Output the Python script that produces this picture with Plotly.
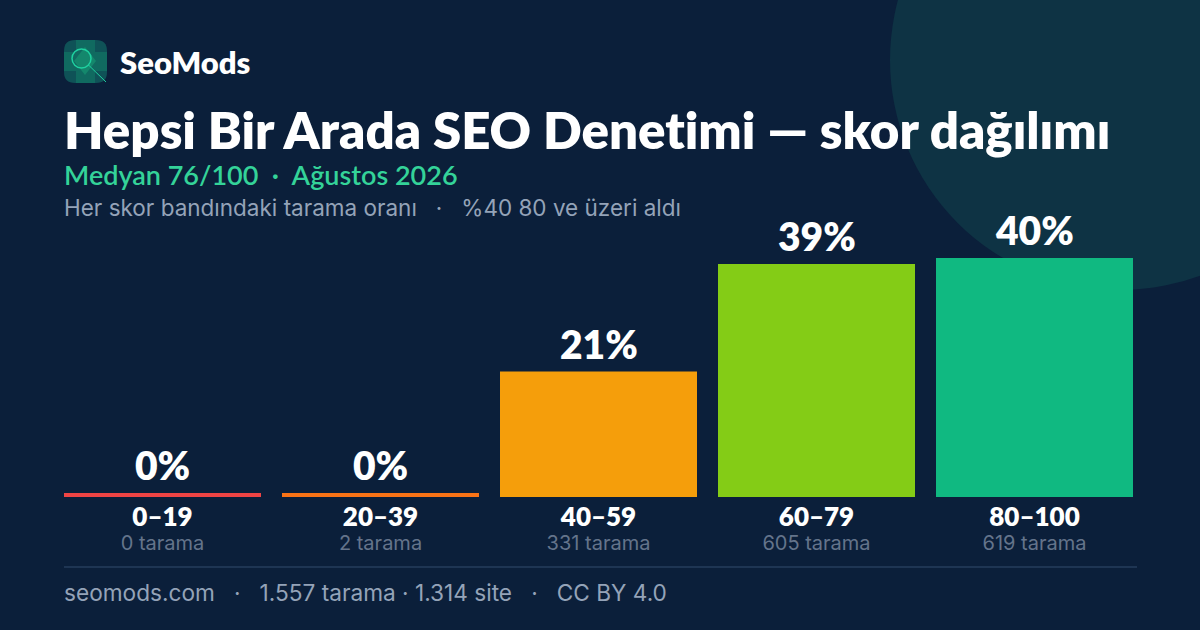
import plotly.graph_objects as go

W, H = 1200, 630

bands = ["0–19", "20–39", "40–59", "60–79", "80–100"]
percents = [0, 0, 21, 39, 40]
# a 0% band still gets a thin line in the original
bar_heights = [0.67, 0.67, 21, 39, 40]
scans = [0, 2, 331, 605, 619]
bar_colors = ["#ef4444", "#f97316", "#f59e0b", "#84cc16", "#10b981"]

BG = "#0b1f3a"
FONT = "Inter"
DISPLAY = "Lato"


def px(x):
    return x / W


def py(y):
    return 1 - y / H


def label(text, x, y, size, color, weight=400, family=FONT):
    # annotations carry 2px of padding, hence the -2
    return dict(text=text, x=px(x - 2), y=py(y), xref="paper", yref="paper",
                xanchor="left", yanchor="middle", showarrow=False,
                font=dict(family=family, size=size, color=color, weight=weight))


def rounded_square(x0, y0, x1, y1, r):
    pts = [
        f"M {px(x0 + r):.5f},{py(y0):.5f}",
        f"L {px(x1 - r):.5f},{py(y0):.5f}",
        f"Q {px(x1):.5f},{py(y0):.5f} {px(x1):.5f},{py(y0 + r):.5f}",
        f"L {px(x1):.5f},{py(y1 - r):.5f}",
        f"Q {px(x1):.5f},{py(y1):.5f} {px(x1 - r):.5f},{py(y1):.5f}",
        f"L {px(x0 + r):.5f},{py(y1):.5f}",
        f"Q {px(x0):.5f},{py(y1):.5f} {px(x0):.5f},{py(y1 - r):.5f}",
        f"L {px(x0):.5f},{py(y0 + r):.5f}",
        f"Q {px(x0):.5f},{py(y0):.5f} {px(x0 + r):.5f},{py(y0):.5f}",
        "Z",
    ]
    return " ".join(pts)


def poly(points):
    return "M " + " L ".join(f"{px(a):.5f},{py(b):.5f}" for a, b in points) + " Z"


fig = go.Figure()
fig.add_trace(go.Bar(
    x=bands,
    y=bar_heights,
    marker=dict(color=bar_colors, line=dict(width=0)),
    hoverinfo="skip",
))

shapes = [
    # big circle top right
    dict(type="circle", xref="paper", yref="paper", layer="below",
         x0=px(890), x1=px(1350), y0=py(290), y1=py(-170),
         fillcolor="#0e3344", line=dict(width=0)),
    # footer rule
    dict(type="line", xref="paper", yref="paper", layer="below",
         x0=px(64), x1=px(1137), y0=py(567), y1=py(567),
         line=dict(color="#1e3553", width=2)),
    # logo
    dict(type="path", path=rounded_square(64, 40, 107, 83, 11), xref="paper", yref="paper",
         fillcolor="#0f5257", line=dict(width=0)),
    dict(type="rect", xref="paper", yref="paper",
         x0=px(76), x1=px(95), y0=py(83), y1=py(40),
         fillcolor="#106a60", line=dict(width=0)),
    dict(type="rect", xref="paper", yref="paper",
         x0=px(64), x1=px(107), y0=py(71), y1=py(52),
         fillcolor="#106a60", line=dict(width=0)),
    dict(type="path", path=poly([(85, 47), (96, 61), (85, 75), (74, 61)]), xref="paper", yref="paper",
         fillcolor="#14876c", line=dict(width=0)),
    dict(type="circle", xref="paper", yref="paper",
         x0=px(72), x1=px(91), y0=py(68), y1=py(49),
         fillcolor="rgba(0,0,0,0)", line=dict(color="#1fd1a0", width=1.5)),
    dict(type="line", xref="paper", yref="paper",
         x0=px(88.5), x1=px(106), y0=py(65), y1=py(82),
         line=dict(color="#1fd1a0", width=1)),
]

annotations = [
    label("SeoMods", 120, 62, 31, "#ffffff", 800, DISPLAY),
    label('<span style="font-variant-ligatures:none">Hepsi Bir Arada SEO Denetimi — skor dağılımı</span>',
          64, 130, 51, "#ffffff", 800, DISPLAY),
    label("Medyan 76/100  ·  Ağustos 2026", 64, 174, 27, "#34d399", 600, DISPLAY),
    label("Her skor bandındaki tarama oranı   ·   %40 80 ve üzeri aldı", 64, 208, 22.5, "#94a3b8"),
    label("seomods.com   ·   1.557 tarama · 1.314 site   ·   CC BY 4.0", 64, 592, 22.65, "#94a3b8"),
]
for band, p, h in zip(bands, percents, bar_heights):
    annotations.append(dict(
        text=f"{p}%", x=band, y=h, xref="x", yref="y",
        xanchor="center", yanchor="bottom", showarrow=False, yshift=3,
        font=dict(family=DISPLAY, size=39, color="#ffffff", weight=800),
    ))

tick_text = [
    f'<span style="font-family:{DISPLAY};font-size:26px;font-weight:800;color:#ffffff">{b}</span>'
    f'<br><span style="font-size:20px">{n} tarama</span>'
    for b, n in zip(bands, scans)
]

fig.update_layout(
    width=W,
    height=H,
    margin=dict(l=0, r=0, t=0, b=0),
    paper_bgcolor=BG,
    plot_bgcolor="rgba(0,0,0,0)",
    showlegend=False,
    bargap=21 / 218,
    shapes=shapes,
    annotations=annotations,
)
fig.update_xaxes(
    domain=[px(53.5), px(1143.5)],
    type="category",
    showgrid=False,
    zeroline=False,
    showline=False,
    ticks="",
    tickmode="array",
    tickvals=bands,
    ticktext=tick_text,
    tickangle=0,
    ticklabelstandoff=9,
    tickfont=dict(family=FONT, size=18.5, color="#64748b"),
)
fig.update_yaxes(
    domain=[py(497), py(198.25)],
    range=[0, 50],
    visible=False,
)

fig.write_html("out.html", config=dict(displayModeBar=False),
               post_script="document.body.style.margin='0';document.body.style.background='#0b1f3a';")
